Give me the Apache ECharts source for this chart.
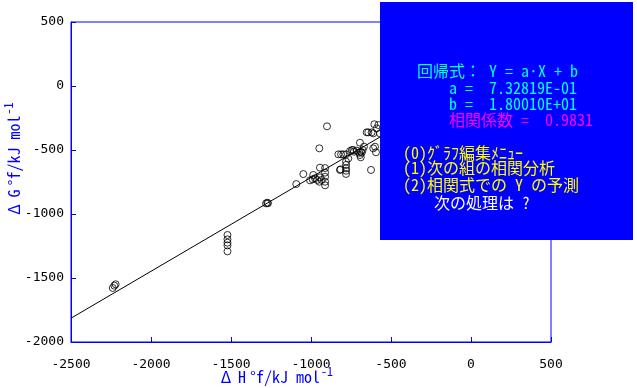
<!DOCTYPE html>
<html><head><meta charset="utf-8">
<script src="https://cdn.jsdelivr.net/npm/echarts@6/dist/echarts.min.js"></script>
<style>html,body{margin:0;padding:0;background:#fff}#c{width:637px;height:388px}</style>
</head><body><div id="c"></div>
<script>
// Data
const hf = [-2239,-2229,-2221,-1522,-1522,-1522,-1522,-1522,-1281,-1273,-1269,-1092,-1048,-1006,-986,-990,-975,-961,-948,-944,-933,-912,-912,-912,-912,-912,-944,-948,-900,-819,-829,-812,-798,-781,-767,-781,-781,-781,-781,-781,-756,-744,-736,-694,-689,-694,-689,-683,-677,-669,-652,-642,-621,-611,-604,-579,-625,-600,-594,-611,-569,-589,-731,-714,-698,-815];
const gf = [-1578,-1560,-1549,-1164,-1198,-1224,-1245,-1292,-917,-912,-916,-766,-688,-737,-695,-729,-721,-734,-748,-714,-734,-748,-776,-709,-677,-641,-638,-487,-315,-656,-534,-534,-534,-534,-566,-591,-617,-643,-662,-687,-508,-500,-500,-443,-513,-539,-557,-521,-500,-474,-362,-362,-362,-370,-299,-305,-656,-474,-518,-487,-370,-331,-513,-505,-521,-651];
const lineX = [-2500, -400];
const lineY = [-1814, -275];
const xTicks = {min: -2500, max: 500, interval: 500};
const yTicks = {min: -2000, max: 500, interval: 500};
const boxLines = [
  {t: '回帰式： Y = a·X + b', c: '#00ffff', x: 417, y: 71},
  {t: 'a =  7.32819E-01', c: '#00ffff', x: 449, y: 88},
  {t: 'b =  1.80010E+01', c: '#00ffff', x: 449, y: 104},
  {t: '相関係数 =  0.9831', c: '#ff00ff', x: 449, y: 120},
  {t: '(0)ｸﾞﾗﾌ編集ﾒﾆｭｰ', c: '#ffff00', x: 403, y: 153},
  {t: '(1)次の組の相関分析', c: '#ffff00', x: 403, y: 168},
  {t: '(2)相関式での Y の予測', c: '#ffff00', x: 403, y: 185},
  {t: '次の処理は ?', c: '#ffffff', x: 434, y: 203}
];

const BLUE = '#0000ff';
const MONO = '"Noto Sans Mono CJK JP", "DejaVu Sans Mono", monospace';
const TICKF = '"DejaVu Sans Mono", monospace';

const chart = echarts.init(document.getElementById('c'));
const pts = hf.map((v, i) => [v, gf[i]]);
const line = lineX.map((v, i) => [v, lineY[i]]);

const axisCommon = {
  type: 'value',
  axisLine: {show: true, onZero: false, lineStyle: {color: BLUE, width: 1}},
  axisTick: {show: true, inside: true, length: 5, lineStyle: {color: BLUE}},
  splitLine: {show: false},
  axisLabel: {color: '#000', fontFamily: TICKF, fontSize: 13, formatter: v => String(v)}
};

const titleRich = {
  w: {fill: BLUE, fontFamily: MONO, fontSize: 16, width: 16, align: 'center', verticalAlign: 'bottom'},
  m: {fill: BLUE, fontFamily: MONO, fontSize: 16, verticalAlign: 'bottom'},
  s: {fill: BLUE, fontFamily: MONO, fontSize: 12, verticalAlign: 'top', padding: [0,0,8,1]}
};

const graphics = [
  {type: 'rect', shape: {x: 380, y: 2, width: 253, height: 238}, style: {fill: BLUE}, z: 100},
  ...boxLines.map(l => ({type: 'text', x: l.x, y: l.y, z: 101,
    style: {text: l.t, fill: l.c, fontFamily: MONO, fontSize: 16, verticalAlign: 'middle', align: 'left'}})),
  {type: 'text', x: 218, y: 375, z: 50,
    style: {text: '{w|Δ}{w|H}{m|°f/kJ mol}{s|-1}', verticalAlign: 'middle', align: 'left', rich: titleRich}},
  {type: 'text', x: 12, y: 160, rotation: Math.PI / 2, z: 50,
    style: {text: '{w|Δ}{w|G}{m|°f/kJ mol}{s|-1}', verticalAlign: 'middle', align: 'center', rich: titleRich}}
];

chart.setOption({
  animation: false,
  backgroundColor: '#fff',
  grid: {left: 71, top: 22, width: 480, height: 320, show: true, borderColor: BLUE, borderWidth: 1, backgroundColor: 'transparent'},
  xAxis: Object.assign({}, axisCommon, xTicks, {axisLabel: Object.assign({}, axisCommon.axisLabel, {margin: 16})}),
  yAxis: Object.assign({}, axisCommon, yTicks, {axisLabel: Object.assign({}, axisCommon.axisLabel, {margin: 7})}),
  series: [
    {type: 'scatter', data: pts, symbol: 'circle', symbolSize: 7,
     itemStyle: {color: 'transparent', borderColor: '#000', borderWidth: 1}, z: 3},
    {type: 'line', data: line, showSymbol: false, lineStyle: {color: '#000', width: 1}, z: 2}
  ],
  graphic: graphics
});
</script></body></html>
